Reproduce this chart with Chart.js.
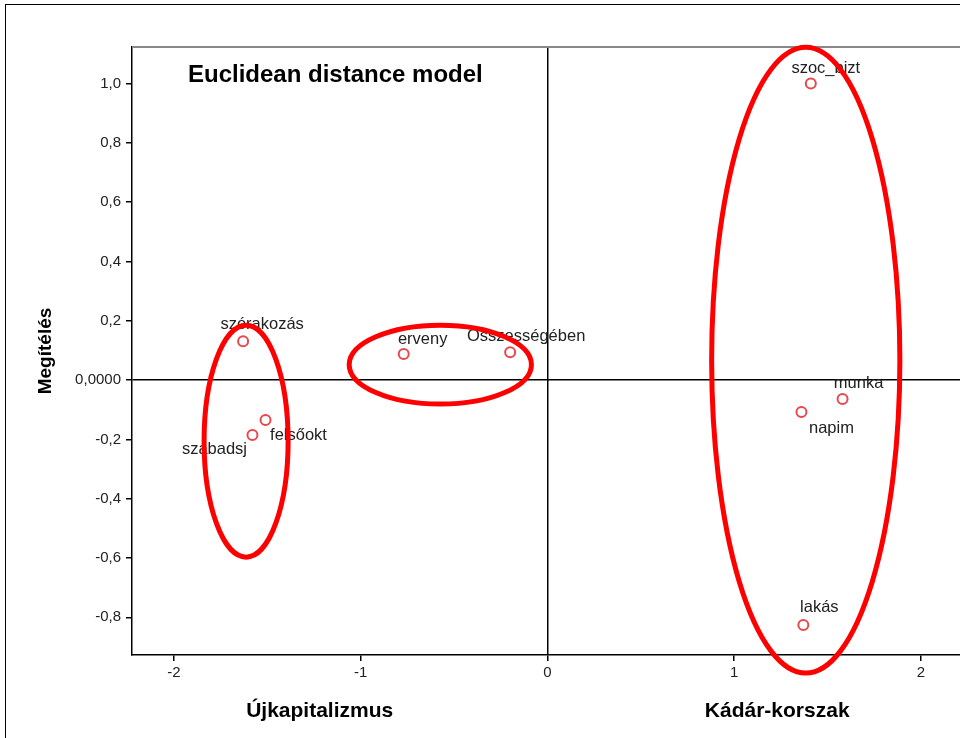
<!DOCTYPE html>
<html>
<head>
<meta charset="utf-8">
<script src="https://cdn.jsdelivr.net/npm/chart.js@4/dist/chart.umd.min.js"></script>
<style>
  html, body { margin: 0; padding: 0; background: #fff; overflow: hidden; }
  #wrap { position: relative; width: 960px; height: 738px; overflow: hidden; }
  #frame { position: absolute; left: 5px; top: 4px; width: 980px; height: 760px;
           border-left: 1.5px solid #000; border-top: 1.5px solid #000; }
  canvas { position: absolute; left: 0; top: 0; }
</style>
</head>
<body>
<div id="wrap">
  <div id="frame"></div>
  <canvas id="chart" width="984" height="738"></canvas>
</div>
<script>
// stimulus labels and their coordinates in the 2-dim solution
const labels = ['szoc_bizt', 'munka', 'napim', 'lakás', 'szórakozás',
                'felsőokt', 'szabadsj', 'erveny', 'Összességében'];
const dim1 = [1.41, 1.58, 1.36, 1.37, -1.63, -1.51, -1.58, -0.77, -0.20];
const dim2 = [1.00, -0.064, -0.108, -0.826, 0.131, -0.135, -0.185, 0.088, 0.094];

const xTicks = [-2, -1, 0, 1, 2];
const yTicks = [-0.8, -0.6, -0.4, -0.2, 0, 0.2, 0.4, 0.6, 0.8, 1.0];

// where each label sits relative to its point (px)
const labelOffsets = [[15, -15], [16, -16], [30, 16], [16, -18], [19, -17],
                      [33, 15], [-38, 15], [19, -15], [16, -16]];

// hand-drawn groupings: centre x, centre y, radius x, radius y (data units)
const ellipses = [
  [-1.614, -0.206, 0.225, 0.391],
  [-0.574, 0.052, 0.488, 0.133],
  [1.383, 0.067, 0.504, 1.055]
];

const fmtY = v => v === 0 ? '0,0000' : v.toFixed(1).replace('.', ',');
const FONT = '"Liberation Sans", Arial, sans-serif';

const extras = {
  id: 'extras',
  afterDatasetsDraw(chart) {
    const ctx = chart.ctx;
    const meta = chart.getDatasetMeta(0);
    ctx.save();
    ctx.font = '16.5px ' + FONT;
    ctx.fillStyle = '#222';
    ctx.textAlign = 'center';
    ctx.textBaseline = 'middle';
    meta.data.forEach((pt, i) => {
      ctx.fillText(labels[i], pt.x + labelOffsets[i][0], pt.y + labelOffsets[i][1]);
    });
    ctx.restore();
  },
  afterDraw(chart) {
    const ctx = chart.ctx;
    const a = chart.chartArea;
    const xs = chart.scales.x, ys = chart.scales.y;
    ctx.save();
    // top border of the plot is grey
    ctx.strokeStyle = '#888';
    ctx.lineWidth = 2;
    ctx.beginPath();
    ctx.moveTo(a.left, a.top);
    ctx.lineTo(a.right, a.top);
    ctx.stroke();

    ctx.fillStyle = '#000';
    ctx.font = 'bold 24px ' + FONT;
    ctx.textAlign = 'left';
    ctx.textBaseline = 'middle';
    ctx.fillText('Euclidean distance model', a.left + 56, a.top + 28);

    ctx.font = 'bold 21px ' + FONT;
    ctx.textAlign = 'center';
    ctx.fillText('Újkapitalizmus', xs.getPixelForValue(-1.22), 711);
    ctx.fillText('Kádár-korszak', xs.getPixelForValue(1.23), 711);

    ctx.strokeStyle = '#ff0000';
    ctx.lineWidth = 5;
    ellipses.forEach(e => {
      const cx = xs.getPixelForValue(e[0]);
      const cy = ys.getPixelForValue(e[1]);
      const rx = Math.abs(xs.getPixelForValue(e[0] + e[2]) - cx);
      const ry = Math.abs(ys.getPixelForValue(e[1] + e[3]) - cy);
      ctx.beginPath();
      ctx.ellipse(cx, cy, rx, ry, 0, 0, Math.PI * 2);
      ctx.stroke();
    });
    ctx.restore();
  }
};

new Chart(document.getElementById('chart'), {
  type: 'scatter',
  data: {
    datasets: [{
      data: dim1.map((x, i) => ({ x: x, y: dim2[i] })),
      pointRadius: 5,
      pointBorderWidth: 2,
      pointBorderColor: '#e8474c',
      pointBackgroundColor: '#fff'
    }]
  },
  options: {
    responsive: false,
    animation: false,
    devicePixelRatio: 1,
    layout: { padding: { left: 0, top: 47, right: 0, bottom: 0 } },
    plugins: { legend: { display: false }, tooltip: { enabled: false } },
    scales: {
      x: {
        type: 'linear',
        min: -2.225,
        max: 2.3,
        afterBuildTicks: s => { s.ticks = xTicks.map(v => ({ value: v })); },
        afterFit: s => { s.height = 83; },
        border: { display: true, color: '#000', width: 1.5 },
        grid: {
          color: c => c.tick && c.tick.value === 0 ? '#000' : 'rgba(0,0,0,0)',
          lineWidth: 1.5,
          tickColor: '#000',
          tickLength: 6
        },
        ticks: {
          color: '#222',
          padding: 3,
          font: { family: FONT, size: 15 },
          callback: v => String(v)
        }
      },
      y: {
        type: 'linear',
        min: -0.927,
        max: 1.123,
        afterBuildTicks: s => { s.ticks = yTicks.map(v => ({ value: v })); },
        afterFit: s => { s.width = 132; },
        border: { display: true, color: '#000', width: 1.5 },
        grid: {
          color: c => c.tick && c.tick.value === 0 ? '#000' : 'rgba(0,0,0,0)',
          lineWidth: 1.5,
          tickColor: '#000',
          tickLength: 6
        },
        ticks: {
          color: '#222',
          padding: 5,
          font: { family: FONT, size: 15 },
          callback: v => fmtY(v)
        },
        title: {
          display: true,
          text: 'Megítélés',
          color: '#000',
          padding: { top: 34 },
          font: { family: FONT, size: 19, weight: 'bold' }
        }
      }
    }
  },
  plugins: [extras]
});
</script>
</body>
</html>
